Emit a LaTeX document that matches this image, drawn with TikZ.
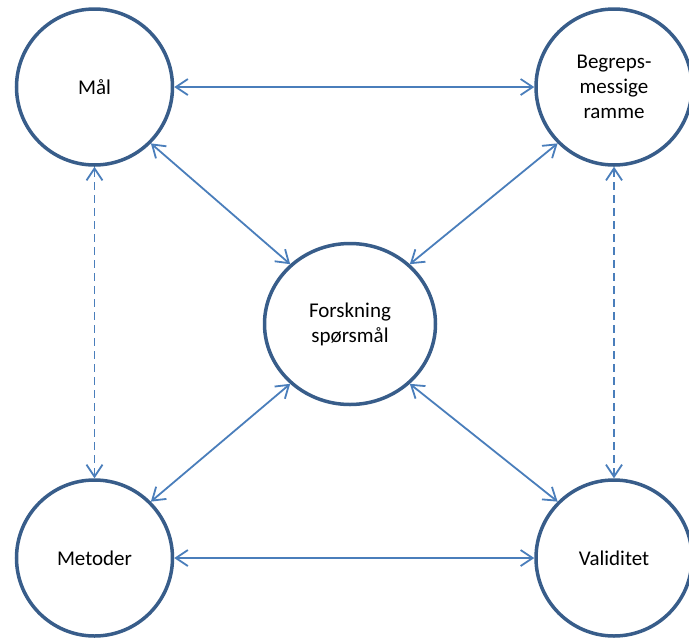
\documentclass[tikz,border=0pt]{standalone}
\usepackage{fontspec}
\setmainfont{Carlito}
\usetikzlibrary{arrows.meta,shapes.geometric}
\definecolor{ringblue}{HTML}{385D8A}
\definecolor{linkblue}{HTML}{4A7EBB}
\begin{document}
\begin{tikzpicture}[x=1pt,y=-1pt,
  bubble/.style={circle,draw=ringblue,line width=3.5pt,minimum size=156pt,inner sep=0pt,align=center,font=\fontsize{21}{25}\selectfont,text=black},
  link/.style={draw=linkblue,line width=1.8pt,{Straight Barb[length=12pt,width=16pt]}-{Straight Barb[length=12pt,width=16pt]}},
  dlink/.style={link,dash pattern=on 8pt off 5pt}]
\useasboundingbox (0,0) rectangle (689,641);
\node[bubble] (mal) at (94.5,87) {Mål};
\node[bubble] (beg) at (614,87) {Begreps-\\messige\\ramme};
\node[bubble] (met) at (94.5,558) {Metoder};
\node[bubble] (val) at (614,558) {Validitet};
\node[bubble,ellipse,minimum width=171pt,minimum height=161pt] (for) at (350,324) {Forskning\\spørsmål};
\draw[link] (mal) -- (beg);
\draw[link] (met) -- (val);
\draw[dlink] (mal) -- (met);
\draw[dlink] (beg) -- (val);
\draw[link] (mal.-45) -- (for.135);
\draw[link] (beg.225) -- (for.45);
\draw[link] (met.45) -- (for.225);
\draw[link] (val.135) -- (for.-45);
\end{tikzpicture}
\end{document}
